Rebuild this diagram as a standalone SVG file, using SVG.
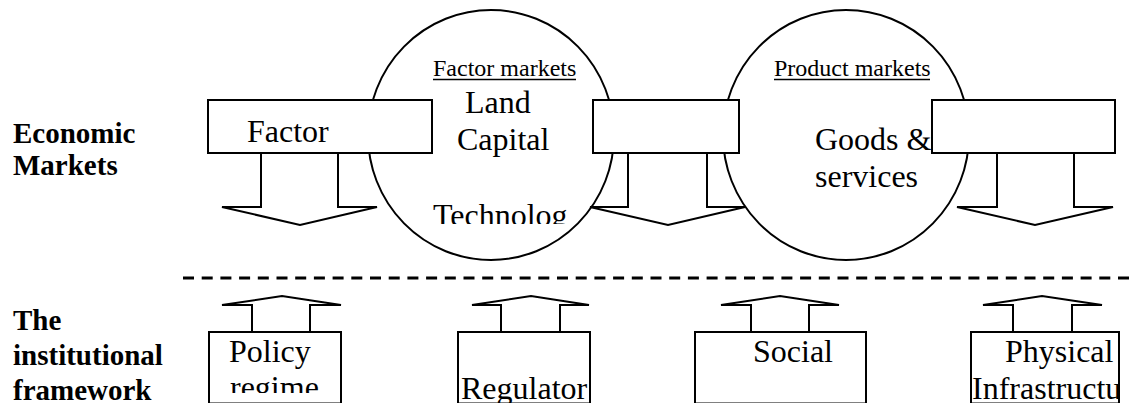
<svg xmlns="http://www.w3.org/2000/svg" width="1132" height="403" viewBox="0 0 1132 403">
<style>
.ln{fill:#fff;stroke:#000;stroke-width:2}
.t{font-family:"Liberation Serif","Times New Roman",serif;font-size:32px;fill:#000}
.s{font-family:"Liberation Serif","Times New Roman",serif;font-size:24px;fill:#000}
.b{font-family:"Liberation Serif","Times New Roman",serif;font-size:29px;font-weight:bold;fill:#000}
</style>
<defs>
<clipPath id="cTech"><rect x="420" y="190" width="160" height="34"/></clipPath>
<clipPath id="cPol"><rect x="210" y="333" width="130" height="60"/></clipPath>
<clipPath id="cPhy"><rect x="972" y="333" width="146" height="70"/></clipPath>
</defs>
<rect width="1132" height="403" fill="#fff"/>
<g id="labels">
<text class="b" x="13" y="143">Economic</text>
<text class="b" x="13" y="175">Markets</text>
<text class="b" x="13" y="330">The</text>
<text class="b" x="13" y="365">institutional</text>
<text class="b" x="13" y="400">framework</text>
</g>
<g id="factor-markets">
<ellipse class="ln" cx="491" cy="135" rx="123" ry="125"/>
<text class="s" x="433" y="76">Factor markets</text>
<line x1="433" y1="79.5" x2="576" y2="79.5" stroke="#000" stroke-width="1.3"/>
<text class="t" x="465" y="113">Land</text>
<text class="t" x="457" y="150">Capital</text>
<text class="t" x="433" y="226" clip-path="url(#cTech)">Technolog</text>
</g>
<g id="product-markets">
<ellipse class="ln" cx="846" cy="135" rx="123" ry="125"/>
<text class="s" x="774" y="76">Product markets</text>
<line x1="774" y1="79.5" x2="930" y2="79.5" stroke="#000" stroke-width="1.3"/>
<text class="t" x="815" y="150">Goods &amp;</text>
<text class="t" x="815" y="187">services</text>
</g>
<g id="connectors">
<path class="ln" d="M261,153 V207 H222 L300,225 L377,207 H338 V153"/>
<path class="ln" d="M628,153 V207 H590 L668,225 L745,207 H707 V153"/>
<path class="ln" d="M997,153 V207 H957 L1035,225 L1113,207 H1074 V153"/>
<line x1="183" y1="278" x2="1132" y2="278" stroke="#000" stroke-width="3" stroke-dasharray="11 7.7"/>
<path class="ln" d="M252,332 V305 H222 L282,296 L341,305 H310 V332"/>
<path class="ln" d="M501,332 V305 H472 L531,296 L589,305 H560 V332"/>
<path class="ln" d="M751,332 V305 H721 L780,296 L839,305 H809 V332"/>
<path class="ln" d="M1013,332 V305 H983 L1042,296 L1102,305 H1072 V332"/>
</g>
<g id="factor">
<rect class="ln" x="208" y="100" width="224" height="53"/>
<text class="t" x="247" y="142">Factor</text>
</g>
<g id="box-mid">
<rect class="ln" x="593" y="100" width="146" height="53"/>
</g>
<g id="box-right">
<rect class="ln" x="932" y="100" width="183" height="53"/>
</g>
<g id="policy">
<rect class="ln" x="209" y="332" width="132" height="71.5"/>
<text class="t" x="229" y="362">Policy</text>
<text class="t" x="230" y="398" clip-path="url(#cPol)">regime</text>
</g>
<g id="regulatory">
<rect class="ln" x="458" y="332" width="132" height="71.5"/>
<text class="t" x="461" y="399">Regulator</text>
</g>
<g id="social">
<rect class="ln" x="695" y="332" width="171" height="71.5"/>
<text class="t" x="753" y="362">Social</text>
</g>
<g id="physical">
<rect class="ln" x="971" y="332" width="148" height="71.5"/>
<text class="t" x="1005" y="362">Physical</text>
<text class="t" x="972" y="399" clip-path="url(#cPhy)">Infrastructu</text>
</g>
</svg>
